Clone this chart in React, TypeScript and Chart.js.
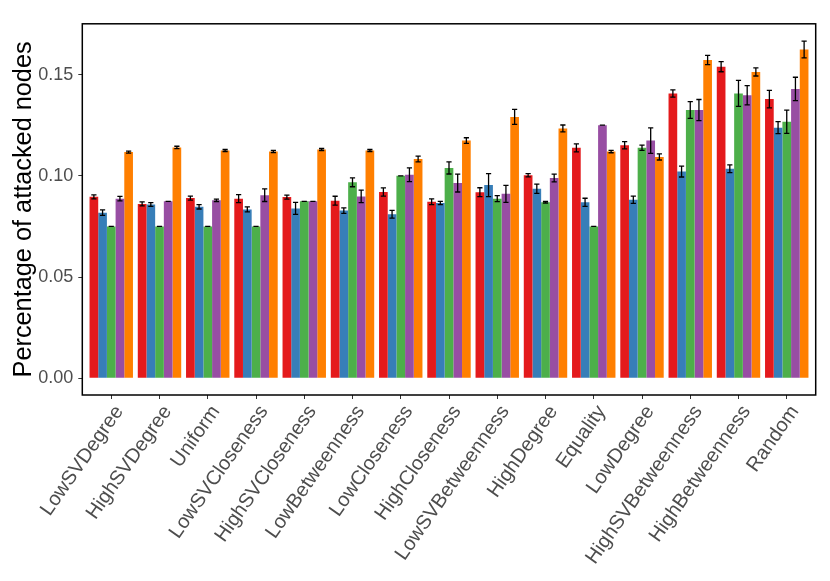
import React, { useEffect, useRef } from "react";
import { Chart, registerables, Plugin } from "chart.js";

Chart.register(...registerables);

const strategies = [
  "LowSVDegree",
  "HighSVDegree",
  "Uniform",
  "LowSVCloseness",
  "HighSVCloseness",
  "LowBetweenness",
  "LowCloseness",
  "HighCloseness",
  "LowSVBetweenness",
  "HighDegree",
  "Equality",
  "LowDegree",
  "HighSVBetweenness",
  "HighBetweenness",
  "Random",
];

const redValues = [0.0896, 0.0861, 0.089, 0.0887, 0.0895, 0.0877, 0.092, 0.0872, 0.0919, 0.1003, 0.1138, 0.1151, 0.1407, 0.1539, 0.1379];
const redErrors = [0.001, 0.001, 0.001, 0.002, 0.001, 0.0022, 0.002, 0.0014, 0.0022, 0.0008, 0.002, 0.0018, 0.0018, 0.0025, 0.0043];
const blueValues = [0.0818, 0.0858, 0.0847, 0.0834, 0.0839, 0.0828, 0.081, 0.0866, 0.0954, 0.0936, 0.0869, 0.0882, 0.1021, 0.1035, 0.1238];
const blueErrors = [0.0014, 0.0009, 0.0011, 0.0012, 0.003, 0.0014, 0.0019, 0.0008, 0.0057, 0.0023, 0.002, 0.0018, 0.0027, 0.0019, 0.003];
const greenValues = [0.075, 0.075, 0.075, 0.075, 0.0874, 0.0968, 0.1, 0.1039, 0.0887, 0.0869, 0.075, 0.1139, 0.1325, 0.1407, 0.1267];
const greenErrors = [0, 0, 0, 0, 0, 0.0022, 0, 0.003, 0.0015, 0.0004, 0, 0.0013, 0.0041, 0.0064, 0.0057];
const purpleValues = [0.0887, 0.0874, 0.0879, 0.0904, 0.0874, 0.0898, 0.1005, 0.0964, 0.0911, 0.0989, 0.125, 0.1174, 0.1325, 0.1398, 0.1429];
const purpleErrors = [0.0011, 0, 0.0006, 0.0031, 0, 0.0031, 0.0034, 0.0044, 0.0042, 0.0019, 0, 0.0063, 0.0052, 0.0048, 0.0058];
const orangeValues = [0.1117, 0.114, 0.1125, 0.112, 0.113, 0.1125, 0.1083, 0.1174, 0.1291, 0.1234, 0.112, 0.1093, 0.1572, 0.1513, 0.1624];
const orangeErrors = [0.0005, 0.0006, 0.0005, 0.0005, 0.0005, 0.0005, 0.0014, 0.0014, 0.0037, 0.0017, 0.0006, 0.0015, 0.0023, 0.002, 0.0041];

const yTicks = [0, 0.05, 0.1, 0.15];

const series = [
  { name: "red", color: "#E41A1C", values: redValues, errors: redErrors },
  { name: "blue", color: "#377EB8", values: blueValues, errors: blueErrors },
  { name: "green", color: "#4DAF4A", values: greenValues, errors: greenErrors },
  { name: "purple", color: "#984EA3", values: purpleValues, errors: purpleErrors },
  { name: "orange", color: "#FF7F00", values: orangeValues, errors: orangeErrors },
];

const FONT = "'Liberation Sans', Arial, sans-serif";

// error bars + panel border, drawn after the bars
const errorBars: Plugin<"bar"> = {
  id: "errorBars",
  afterDatasetsDraw(chart) {
    const { ctx, chartArea } = chart;
    const y = chart.scales.y;
    ctx.save();
    ctx.strokeStyle = "#000";
    ctx.lineWidth = 1.3;
    series.forEach((s, i) => {
      const meta = chart.getDatasetMeta(i);
      meta.data.forEach((bar, j) => {
        const x = bar.x;
        const top = y.getPixelForValue(s.values[j] + s.errors[j]);
        const bot = y.getPixelForValue(s.values[j] - s.errors[j]);
        ctx.beginPath();
        ctx.moveTo(x, top);
        ctx.lineTo(x, bot);
        ctx.moveTo(x - 2.6, top);
        ctx.lineTo(x + 2.6, top);
        ctx.moveTo(x - 2.6, bot);
        ctx.lineTo(x + 2.6, bot);
        ctx.stroke();
      });
    });
    ctx.lineWidth = 1.5;
    ctx.strokeRect(chartArea.left, chartArea.top, chartArea.right - chartArea.left, chartArea.bottom - chartArea.top);
    ctx.restore();
  },
};

const AttackChart = () => {
  const canvasRef = useRef<HTMLCanvasElement | null>(null);

  useEffect(() => {
    let chart: Chart<"bar"> | null = null;
    if (canvasRef.current) {
      chart = new Chart(canvasRef.current, {
        type: "bar",
        data: {
          datasets: series.map((s) => ({
            label: s.name,
            data: s.values.map((v, i) => ({ x: i, y: v })),
            backgroundColor: s.color,
            borderWidth: 0,
            categoryPercentage: 0.9,
            barPercentage: 1,
          })),
        },
        options: {
          animation: false,
          responsive: true,
          maintainAspectRatio: false,
          layout: { padding: { top: 5.3, right: 6.3, left: 0, bottom: 0 } },
          plugins: {
            legend: { display: false },
            tooltip: { enabled: false },
          },
          scales: {
            x: {
              type: "linear",
              min: -0.6,
              max: 14.6,
              offset: false,
              afterBuildTicks: (scale) => {
                scale.ticks = strategies.map((_, i) => ({ value: i }));
              },
              afterFit: (scale) => {
                scale.height = 178;
              },
              border: { display: false },
              grid: {
                offset: false,
                drawOnChartArea: false,
                drawTicks: true,
                tickLength: 4,
                color: "#333333",
                lineWidth: 1,
              },
              ticks: {
                autoSkip: false,
                minRotation: 55,
                maxRotation: 55,
                padding: 2,
                labelOffset: 8,
                color: "#4D4D4D",
                font: { family: FONT, size: 20 },
                callback: (v) => strategies[Number(v)] ?? "",
              },
            },
            y: {
              type: "linear",
              min: -0.0083,
              max: 0.1751,
              afterBuildTicks: (scale) => {
                scale.ticks = yTicks.map((v) => ({ value: v }));
              },
              afterFit: (scale) => {
                scale.width = 74.3;
              },
              border: { display: false },
              grid: {
                drawOnChartArea: false,
                drawTicks: true,
                tickLength: 4,
                color: "#333333",
                lineWidth: 1,
              },
              ticks: {
                padding: 5,
                color: "#4D4D4D",
                font: { family: FONT, size: 18 },
                callback: (v) => Number(v).toFixed(2),
              },
              title: {
                display: true,
                text: "Percentage of attacked nodes",
                color: "#000",
                font: { family: FONT, size: 25.3 },
                padding: { top: 1, bottom: 0 },
              },
            },
          },
        },
        plugins: [errorBars],
      });
    }
    return () => {
      if (chart) {
        chart.destroy();
      }
    };
  }, []);

  return (
    <div style={{ width: 814, height: 565, position: "relative" }}>
      <canvas ref={canvasRef} />
    </div>
  );
};

export default function App() {
  return <AttackChart />;
}
